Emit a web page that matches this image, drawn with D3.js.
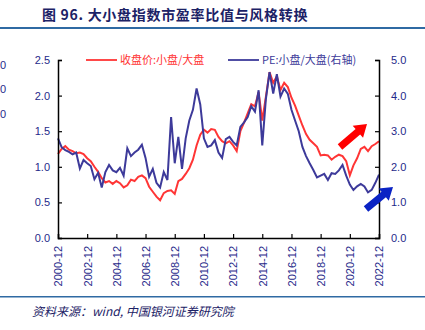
<!DOCTYPE html>
<html>
<head>
<meta charset="utf-8">
<script src="https://cdn.jsdelivr.net/npm/d3@7"></script>
<style>
  body { margin: 0; background: #fff; }
  svg { display: block; font-family: "Liberation Sans", Arial, sans-serif; }
</style>
</head>
<body>
<svg id="chart" width="425" height="330"></svg>
<script>
// quarterly readings, 2000-12 .. 2022-12
const startMonth = "2000-12"
const priceRatio = [1.18,1.25,1.29,1.24,1.22,1.19,1.20,1.18,1.12,1.08,1.00,0.93,0.84,0.78,0.80,0.76,
  0.80,0.77,0.71,0.74,0.82,0.80,0.86,0.88,0.84,0.72,0.65,0.58,0.53,0.63,0.66,0.67,
  0.62,0.80,0.83,0.90,0.98,1.10,1.30,1.45,1.52,1.48,1.53,1.52,1.42,1.36,1.33,1.36,
  1.30,1.22,1.50,1.62,1.75,1.88,1.85,2.05,1.65,1.98,2.33,2.18,2.27,2.08,2.18,2.12,
  1.97,1.86,1.72,1.58,1.46,1.38,1.33,1.28,1.16,1.17,1.16,1.10,1.14,1.17,1.15,1.08,
  0.88,1.02,1.12,1.25,1.28,1.22,1.29,1.32,1.36]
const peRatio = [2.80,2.55,2.47,2.42,2.35,2.40,1.95,2.19,2.10,2.02,1.65,1.83,1.42,1.85,2.05,1.90,
  1.85,1.97,1.75,2.52,2.30,2.40,2.48,2.62,2.25,1.72,1.94,1.55,1.42,1.85,1.63,3.40,
  2.10,2.84,1.94,2.80,3.30,3.60,4.20,3.75,2.80,2.56,2.60,2.75,2.40,2.25,2.78,2.84,
  2.70,2.60,3.12,3.25,3.40,3.70,3.55,4.15,2.60,3.90,4.66,4.06,4.60,3.97,4.20,4.05,
  3.60,3.30,3.00,2.56,2.30,2.10,1.91,1.70,1.75,1.80,1.63,1.82,1.80,1.90,2.05,1.75,
  1.50,1.35,1.45,1.52,1.45,1.28,1.35,1.55,1.78]
const leftTicks = [0, 0.5, 1, 1.5, 2, 2.5]
const rightTicks = [0, 1, 2, 3, 4, 5]
const yearTicks = ["2000-12","2002-12","2004-12","2006-12","2008-12","2010-12",
  "2012-12","2014-12","2016-12","2018-12","2020-12","2022-12"]
const seriesNames = ["收盘价:小盘/大盘", "PE:小盘/大盘(右轴)"]

const navy = "#1f2a8a"
const red = "#ff3535"
const blue = "#3d3a9a"

const parse = d3.timeParse("%Y-%m")
const t0 = parse(startMonth)
const dates = d3.range(priceRatio.length).map(i => d3.timeMonth.offset(t0, i * 3))

const svg = d3.select("#chart")
const plotL = 58, plotR = 379, plotT = 60, plotB = 238

const x = d3.scaleTime()
  .domain([parse(yearTicks[0]), parse(yearTicks[yearTicks.length - 1])])
  .range([plotL, plotR])
const yL = d3.scaleLinear().domain([0, 2.5]).range([plotB, plotT])
const yR = d3.scaleLinear().domain([0, 5]).range([plotB, plotT])

// title + rules
svg.append("text")
  .attr("x", 42).attr("y", 20)
  .style("font-family", "'Noto Sans CJK SC'")
  .style("font-weight", "bold")
  .style("font-size", "14px")
  .style("letter-spacing", "0.7px")
  .attr("fill", "#1c2266")
  .text("图  96. 大小盘指数市盈率比值与风格转换")
svg.append("rect").attr("x", 0).attr("y", 27).attr("width", 425).attr("height", 2).attr("fill", "#2f6aa3")
svg.append("rect").attr("x", 0).attr("y", 296).attr("width", 425).attr("height", 1.5).attr("fill", "#2f6aa3")

// cut-off labels from the neighbouring chart
;[65, 89, 114].forEach(yy => {
  svg.append("text").attr("x", 6).attr("y", yy + 4).attr("text-anchor", "end")
    .style("font-size", "11px").attr("fill", navy).text("0")
})

// lines
const lineL = d3.line().x((d, i) => x(dates[i])).y(d => yL(d))
const lineR = d3.line().x((d, i) => x(dates[i])).y(d => yR(d))

svg.append("path").datum(priceRatio)
  .attr("d", lineL).attr("fill", "none").attr("stroke", red).attr("stroke-width", 2)
svg.append("path").datum(peRatio)
  .attr("d", lineR).attr("fill", "none").attr("stroke", blue).attr("stroke-width", 2)

// axes
const ax = svg.append("g").attr("transform", `translate(0,${plotB})`)
  .call(d3.axisBottom(x).tickValues(yearTicks.map(parse)).tickSize(-4).tickFormat(d3.timeFormat("%Y-%m")))
ax.selectAll(".tick text")
  .attr("transform", "rotate(-90)")
  .attr("text-anchor", "end")
  .attr("x", -8).attr("y", 0).attr("dy", "0.35em")

const ayL = svg.append("g").attr("transform", `translate(${plotL},0)`)
  .call(d3.axisLeft(yL).tickValues(leftTicks).tickSize(-4).tickPadding(8).tickFormat(d3.format(".1f")))
const ayR = svg.append("g").attr("transform", `translate(${plotR},0)`)
  .call(d3.axisRight(yR).tickValues(rightTicks).tickSize(-4).tickPadding(12).tickFormat(d3.format(".1f")))

;[ax, ayL, ayR].forEach(g => {
  g.select(".domain").attr("stroke", "#000").attr("stroke-width", 1.5)
  g.selectAll(".tick line").attr("stroke", "#000").attr("stroke-width", 1.2)
  g.selectAll(".tick text").attr("fill", navy).style("font-size", "11px")
    .style("font-family", "'Liberation Sans', Arial, sans-serif")
})

// legend
const leg = [{ x: 86, c: red, tx: 120 }, { x: 228, c: blue, tx: 262 }]
leg.forEach((l, i) => {
  svg.append("line").attr("x1", l.x).attr("x2", l.x + 31).attr("y1", 60).attr("y2", 60)
    .attr("stroke", l.c).attr("stroke-width", 1.8)
  svg.append("text").attr("x", l.tx).attr("y", 64)
    .style("font-family", "'Noto Sans CJK SC'").style("font-size", "11px")
    .attr("fill", l.c).text(seriesNames[i])
})

// arrows
function arrow(x1, y1, x2, y2, col) {
  const ang = Math.atan2(y2 - y1, x2 - x1) * 180 / Math.PI
  const len = Math.hypot(x2 - x1, y2 - y1)
  svg.append("path")
    .attr("d", `M0,-3.5 L${len - 12},-3.5 L${len - 12},-8 L${len},0 L${len - 12},8 L${len - 12},3.5 L0,3.5 Z`)
    .attr("fill", col)
    .attr("transform", `translate(${x1},${y1}) rotate(${ang})`)
}
arrow(340, 147, 367, 124, "#ff0000")
arrow(366, 209, 393, 187, "#0a23c4")

// source
svg.append("text").attr("x", 32).attr("y", 316)
  .style("font-family", "'Noto Sans CJK SC'").style("font-style", "italic").style("font-size", "12px")
  .attr("fill", "#1c2266")
  .text("资料来源：wind, 中国银河证券研究院")
</script>
</body>
</html>
